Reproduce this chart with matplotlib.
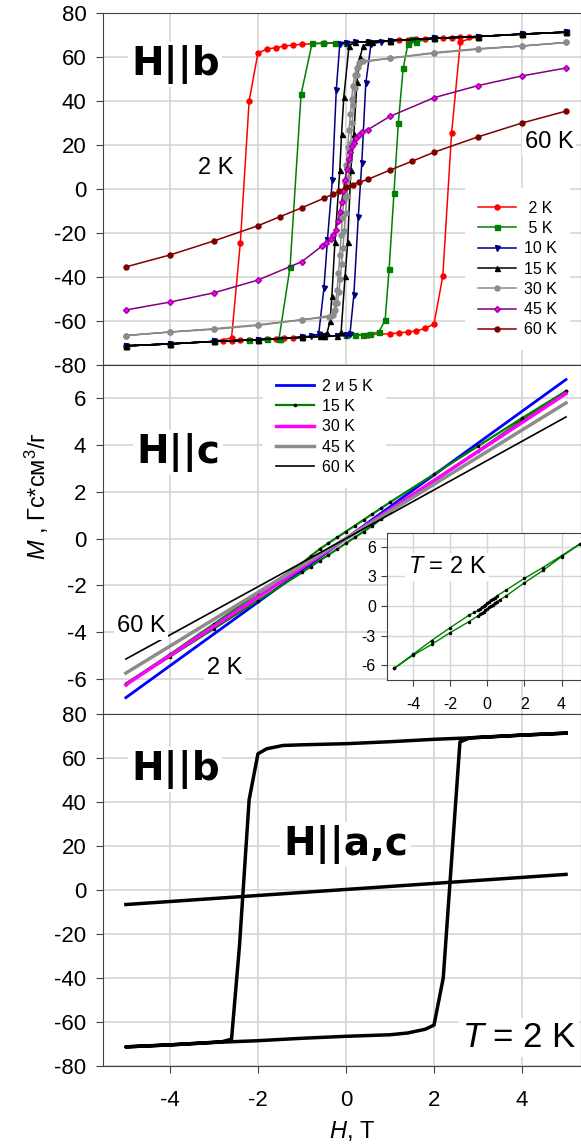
import matplotlib
matplotlib.use('Agg')
import matplotlib.pyplot as plt

plt.rcParams['font.family'] = ['Liberation Sans', 'DejaVu Sans']
plt.rcParams['mathtext.fontset'] = 'custom'
plt.rcParams['mathtext.rm'] = 'Liberation Sans'
plt.rcParams['mathtext.it'] = 'Liberation Sans:italic'
plt.rcParams['axes.unicode_minus'] = False

# ---------- H || b, temperature series (descending + ascending branches) ----------
h2_dn = [5, 4, 3, 2.8, 2.6, 2.4, 2.2, 2, 1.8, 1.6, 1.4, 1.2, 1, 0.5, 0, -0.5, -1, -1.2, -1.4, -1.6, -1.8, -2, -2.2, -2.4, -2.6, -3, -4, -5]
m2_dn = [71.3, 70.4, 69.3, 69.1, 68.9, 68.7, 68.6, 68.5, 68.3, 68.1, 67.9, 67.7, 67.4, 67.0, 66.5, 66.2, 65.8, 65.4, 65.0, 64.2, 63.6, 61.8, 40.0, -24.5, -67.7, -69.3, -70.4, -71.3]
h2_up = [-5, -4, -3, -2.8, -2.6, -2.4, -2.2, -2, -1.8, -1.6, -1.4, -1.2, -1, -0.5, 0, 0.5, 1, 1.2, 1.4, 1.6, 1.8, 2, 2.2, 2.4, 2.6, 3, 4, 5]
m2_up = [-71.3, -70.4, -69.3, -69.1, -68.9, -68.7, -68.6, -68.5, -68.3, -68.1, -67.9, -67.7, -67.4, -67.0, -66.5, -66.2, -65.8, -65.4, -65.0, -64.5, -63.3, -61.4, -39.6, 25.4, 67.0, 69.3, 70.4, 71.3]

h5_dn = [5, 4, 3, 2, 1.5, 1, 0.5, 0, -0.25, -0.52, -0.77, -1.02, -1.27, -1.52, -1.8, -2.2, -3, -4, -5]
m5_dn = [71.3, 70.4, 69.3, 68.5, 68.0, 67.4, 67.0, 66.5, 66.4, 66.3, 66.2, 43.0, -35.5, -68.0, -68.3, -68.6, -69.3, -70.4, -71.3]
h5_up = [-5, -4, -3, -2, -1.5, -1, -0.5, 0, 0.2, 0.38, 0.55, 0.75, 0.89, 0.98, 1.09, 1.19, 1.3, 1.41, 1.6, 2, 3, 4, 5]
m5_up = [-71.3, -70.4, -69.3, -68.5, -68.0, -67.4, -67.0, -66.5, -66.4, -66.2, -66.0, -64.9, -59.5, -36.5, -2.0, 30.0, 55.0, 66.0, 67.0, 68.5, 69.3, 70.4, 71.3]

h10_dn = [5, 4, 3, 2, 1, 0.5, 0.2, 0, -0.14, -0.22, -0.31, -0.42, -0.5, -0.62, -0.8, -1, -2, -3, -4, -5]
m10_dn = [71.3, 70.4, 69.3, 68.5, 67.4, 67.0, 66.7, 66.5, 66.0, 45.0, 4.0, -23.0, -45.0, -66.0, -66.8, -67.4, -68.5, -69.3, -70.4, -71.3]
h10_up = [-5, -4, -3, -2, -1, -0.5, -0.2, 0, 0.09, 0.18, 0.28, 0.36, 0.45, 0.57, 0.8, 1, 2, 3, 4, 5]
m10_up = [-71.3, -70.4, -69.3, -68.5, -67.4, -67.0, -66.7, -66.5, -66.0, -48.0, -12.6, 12.0, 48.0, 66.0, 66.8, 67.4, 68.5, 69.3, 70.4, 71.3]

h15_dn = [5, 4, 3, 2, 1, 0.5, 0.2, 0.07, -0.05, -0.1, -0.14, -0.25, -0.32, -0.36, -0.43, -0.6, -1, -2, -3, -4, -5]
m15_dn = [71.3, 70.4, 69.3, 68.5, 67.4, 67.0, 66.7, 65.0, 41.6, 25.0, 8.6, -24.0, -48.6, -60.0, -65.4, -66.8, -67.4, -68.5, -69.3, -70.4, -71.3]
h15_up = [-5, -4, -3, -2, -1, -0.5, -0.2, -0.11, -0.02, 0.04, 0.11, 0.18, 0.25, 0.32, 0.39, 0.6, 1, 2, 3, 4, 5]
m15_up = [-71.3, -70.4, -69.3, -68.5, -67.4, -67.0, -66.7, -65.0, -39.5, -24.0, 8.6, 25.0, 48.8, 60.0, 65.0, 66.8, 67.4, 68.5, 69.3, 70.4, 71.3]

h30_dn = [5, 4, 3, 2, 1, 0.39, 0.33, 0.28, 0.24, 0.2, 0.17, 0.14, 0.11, 0.08, 0.05, 0.02, -0.01, -0.04, -0.07, -0.1, -0.13, -0.16, -0.2, -0.24, -0.3, -1, -2, -3, -4, -5]
m30_dn = [66.6, 65.0, 63.5, 61.7, 59.4, 58.2, 57.5, 55.5, 52.0, 46.0, 38.0, 30.0, 21.0, 13.0, 5.0, -3.0, -11.0, -19.0, -27.0, -34.0, -41.0, -47.0, -52.0, -55.0, -57.3, -59.5, -62.0, -63.8, -65.0, -66.6]
h30_up = [-5, -4, -3, -2, -1, -0.39, -0.33, -0.28, -0.24, -0.2, -0.17, -0.14, -0.11, -0.08, -0.05, -0.02, 0.01, 0.04, 0.07, 0.1, 0.13, 0.16, 0.2, 0.24, 0.3, 1, 2, 3, 4, 5]
m30_up = [-66.6, -65.0, -63.5, -61.7, -59.4, -58.2, -57.5, -55.5, -52.0, -46.0, -38.0, -30.0, -21.0, -13.0, -5.0, 3.0, 11.0, 19.0, 27.0, 34.0, 41.0, 47.0, 52.0, 55.0, 57.3, 59.5, 62.0, 63.8, 65.0, 66.6]

h45 = [-5, -4, -3, -2, -1, -0.55, -0.45, -0.35, -0.29, -0.23, -0.18, -0.14, -0.1, -0.06, -0.02, 0.02, 0.06, 0.1, 0.14, 0.18, 0.23, 0.29, 0.36, 0.5, 1, 2, 3, 4, 5]
m45 = [-55.0, -51.4, -47.2, -41.4, -33.0, -26.0, -24.5, -22.5, -21.0, -18.5, -14.5, -10.5, -6.0, -1.0, 4.0, 9.0, 13.5, 17.0, 19.5, 21.0, 23.0, 24.5, 26.0, 27.0, 33.0, 41.5, 47.0, 51.4, 55.0]

h60 = [-5, -4, -3, -2, -1.5, -1, -0.5, -0.3, -0.15, 0, 0.15, 0.3, 0.5, 1, 1.5, 2, 3, 4, 5]
m60 = [-35.4, -30.0, -23.6, -16.7, -12.6, -8.5, -4.2, -2.4, -1.0, 0.8, 2.0, 3.0, 4.4, 8.6, 12.6, 16.7, 23.7, 30.0, 35.4]

# ---------- H || c ----------
hc = [-5, 0, 5]
mc_2 = [-6.8, 0.0, 6.8]
mc_30 = [-6.25, 0.0, 6.2]
mc_45 = [-5.75, 0.0, 5.8]
mc_60 = [-5.15, 0.0, 5.2]
hc15_dn = [5, 4, 3, 2, 1, 0.8, 0.6, 0.4, 0.2, 0, -0.2, -0.4, -0.6, -0.8, -1, -2, -3, -4, -5]
mc15_dn = [6.3, 5.15, 3.95, 2.75, 1.55, 1.3, 1.05, 0.8, 0.55, 0.3, 0.05, -0.2, -0.45, -0.75, -1.05, -2.35, -3.65, -4.95, -6.2]
hc15_up = [-5, -4, -3, -2, -1, -0.8, -0.6, -0.4, -0.2, 0, 0.2, 0.4, 0.6, 0.8, 1, 2, 3, 4, 5]
mc15_up = [-6.2, -5.05, -3.85, -2.65, -1.45, -1.2, -0.95, -0.7, -0.45, -0.2, 0.05, 0.3, 0.55, 0.85, 1.15, 2.45, 3.75, 5.05, 6.3]

# inset: H || c at 2 K
hi_dn = [5, 4, 3, 2, 1, 0.5, 0.4, 0.3, 0.2, 0.1, 0, -0.1, -0.2, -0.3, -0.4, -0.5, -0.7, -1, -2, -3, -4, -5]
mi_dn = [6.3, 5.1, 3.9, 2.8, 1.6, 1.0, 0.85, 0.7, 0.6, 0.45, 0.3, 0.15, 0.0, -0.15, -0.3, -0.45, -0.65, -0.95, -2.2, -3.5, -4.9, -6.3]
hi_up = [-5, -4, -3, -2, -1, -0.5, -0.4, -0.3, -0.2, -0.1, 0, 0.1, 0.2, 0.3, 0.4, 0.5, 0.7, 1, 2, 3, 4, 5]
mi_up = [-6.3, -5.0, -3.9, -2.7, -1.6, -1.0, -0.85, -0.7, -0.6, -0.45, -0.3, -0.15, 0.0, 0.15, 0.3, 0.45, 0.65, 1.0, 2.35, 3.6, 5.0, 6.3]

# ---------- 2 K: H || b loop and H || a,c line ----------
hb_dn = [5, 4, 3, 2, 1, 0, -1, -1.43, -1.8, -2.0, -2.2, -2.42, -2.6, -2.82, -4, -5]
mb_dn = [71.3, 70.4, 69.3, 68.5, 67.4, 66.5, 66.0, 65.7, 64.2, 61.9, 41.0, -25.6, -67.8, -69.0, -70.4, -71.3]
hb_up = [-5, -4, -3, -2, -1, 0, 1, 1.4, 1.8, 2.0, 2.21, 2.59, 2.82, 4, 5]
mb_up = [-71.3, -70.4, -69.3, -68.5, -67.4, -66.5, -65.8, -65.0, -63.3, -61.4, -40.0, 67.3, 69.2, 70.4, 71.3]
hb_ac = [-5, 5]
mb_ac = [-6.6, 7.1]

W, H = 581, 1145
GRID = '#d6d6d6'
SPINE = '#404040'


def fx(x):
    return x / W


def fy(y):
    return 1 - y / H


def style(ax, ylim, yticks, xlabels=False):
    ax.set_xlim(-5.52, 5.34)
    ax.set_ylim(*ylim)
    ax.set_xticks([-4, -2, 0, 2, 4])
    ax.set_yticks(yticks)
    ax.grid(True, color=GRID, lw=1.2)
    ax.set_axisbelow(True)
    for s in ax.spines.values():
        s.set_color(SPINE)
    ax.tick_params(direction='out', length=5, color=SPINE, labelsize=16)
    ax.tick_params(axis='y', pad=7)
    ax.tick_params(axis='x', pad=12, labelbottom=xlabels)


def label(x, y, s, size, **kw):
    fig.text(fx(x), fy(y), s, fontsize=size, ha='left', va='baseline',
             bbox=dict(facecolor='white', edgecolor='none', pad=2), **kw)


legend_kw = dict(loc='upper left', facecolor='white', edgecolor='none',
                 framealpha=1, fancybox=False, fontsize=11.5, handlelength=2.4,
                 labelspacing=0.33, borderpad=0.8, handletextpad=0.5,
                 borderaxespad=0)

fig = plt.figure(figsize=(W / 100, H / 100), dpi=100)
left = fx(103)
width = 1 - left
ax1 = fig.add_axes([left, fy(365), width, 352 / H])
ax2 = fig.add_axes([left, fy(714), width, 349 / H])
ax3 = fig.add_axes([left, fy(1066), width, 352 / H])

# top panel: H || b
mk = dict(lw=1.1, ms=3.6)
ax1.plot(h2_dn + h2_up, m2_dn + m2_up, '-o', color='#ff0000', label=' 2 K', **mk)
ax1.plot(h5_dn + h5_up, m5_dn + m5_up, '-s', color='#008000', label=' 5 K', **mk)
ax1.plot(h10_dn + h10_up, m10_dn + m10_up, '-v', color='#000080', label='10 K', **mk)
ax1.plot(h15_dn + h15_up, m15_dn + m15_up, '-^', color='black', label='15 K', **mk)
ax1.plot(h30_dn + h30_up, m30_dn + m30_up, '-o', color='#8c8c8c', label='30 K', **mk)
ax1.plot(h45, m45, '-D', color='#800080', mfc='#ff00ff', mec='#a000a0', label='45 K',
         lw=1.1, ms=3.0)
ax1.plot(h60, m60, '-o', color='#800000', label='60 K', **mk)
style(ax1, (-80, 80), range(-80, 81, 20))
ax1.legend(bbox_to_anchor=((465 - 103) / 478, (365 - 188) / 352), **legend_kw)

# middle panel: H || c
ax2.plot(hc, mc_2, color='#0000ff', lw=2.0, label='2 и 5 K')
ax2.plot(hc15_dn + hc15_up, mc15_dn + mc15_up, '-o', color='#008000', lw=1.6,
         ms=1.6, mfc='black', mec='black', label='15 K')
ax2.plot(hc, mc_30, color='#ff00ff', lw=2.5, label='30 K')
ax2.plot(hc, mc_45, color='#8c8c8c', lw=2.5, label='45 K')
ax2.plot(hc, mc_60, color='black', lw=1.2, label='60 K')
style(ax2, (-7.5, 7.42), range(-6, 7, 2))
ax2.legend(bbox_to_anchor=((263 - 103) / 478, 1 - 1 / 349), **legend_kw)

# inset: 2 K loop along c
axi = fig.add_axes([fx(387), fy(680), 1 - fx(387), 147 / H])
axi.set_facecolor('white')
axi.plot(hi_dn + hi_up, mi_dn + mi_up, '-o', color='#008000', lw=1.0, ms=1.5,
         mfc='black', mec='black')
axi.set_xlim(-5.4, 5.05)
axi.set_ylim(-7.5, 7.4)
axi.set_xticks([-4, -2, 0, 2, 4])
axi.set_yticks([-6, -3, 0, 3, 6])
axi.grid(True, color=GRID, lw=1.0)
axi.set_axisbelow(True)
for s in axi.spines.values():
    s.set_color(SPINE)
axi.tick_params(direction='out', length=4, color=SPINE, labelsize=11.5, pad=4)
axi.tick_params(axis='x', pad=8)

# bottom panel: 2 K, H || b and H || a,c
ax3.plot(hb_dn + hb_up, mb_dn + mb_up, color='black', lw=2.5)
ax3.plot(hb_ac, mb_ac, color='black', lw=2.5)
style(ax3, (-80, 80), range(-80, 81, 20), xlabels=True)

# annotations
big = dict(fontweight='bold', family='DejaVu Sans')
label(131, 75, 'H||b', 28, **big)
label(136, 463, 'H||c', 28, **big)
label(131, 780, 'H||b', 28, **big)
label(283, 855, 'H||a,c', 28, **big)
label(198, 174, '2 K', 17)
label(525, 148, '60 K', 17)
label(117, 632, '60 K', 17)
label(207, 674, '2 K', 17)
label(408, 573, '$T$ = 2 K', 17)
label(462, 1047, '$T$ = 2 K', 25)

fig.text(fx(37), fy(496), '$M$ , Гс*см$^3$/г', fontsize=17, rotation=90,
         ha='center', va='center')
fig.text(fx(352), fy(1131), '$H$, T', fontsize=17, ha='center', va='center')

fig.savefig('out.png', dpi=100)
